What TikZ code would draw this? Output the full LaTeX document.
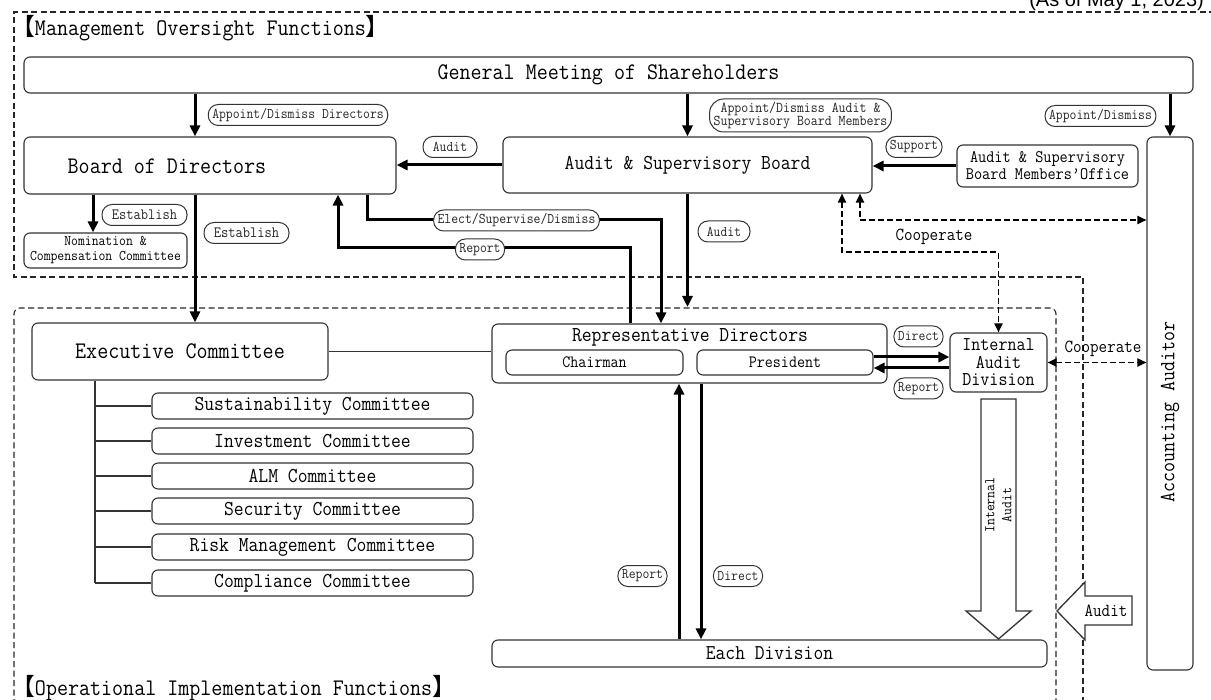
\documentclass[tikz,border=0pt]{standalone}
\usepackage{fontspec}
\setmainfont{Latin Modern Mono}[FakeStretch=0.9]
\newfontfamily\cjk{Noto Sans CJK SC}
\newfontfamily\arialf{Liberation Sans}
\usetikzlibrary{arrows.meta,calc}
\newcommand{\myfs}[2]{\fontsize{#1}{#2}\selectfont}
\tikzset{
  bx/.style={draw=black!80, line width=1.1pt, rounded corners=6pt, inner sep=0pt, align=center, text=black},
  pill/.style={draw=black!80, line width=1pt, fill=white, rounded corners=10pt, minimum height=21pt, inner xsep=4pt, inner ysep=0pt, text=black!85, font=\myfs{14.8}{13}, align=center},
  tarr/.style={line width=3pt, -{Triangle[length=11pt,width=10pt]}},
  darr/.style={line width=1.8pt, dash pattern=on 6pt off 3pt, {Triangle[length=9pt,width=8pt]}-{Triangle[length=9pt,width=8pt]}},
  region/.style={line width=1.1pt, dash pattern=on 6pt off 3.5pt, draw=black!85},
  conn/.style={line width=1.1pt, draw=black!80},
  blockarr/.style={draw=black!80, line width=1.3pt, fill=white, line join=miter},
  plain/.style={inner sep=0pt, text=black}
}
\begin{document}
\begin{tikzpicture}[x=1pt,y=-1pt]
\useasboundingbox (0,0) rectangle (1211,700);
% regions
\draw[region] (1215,12) -- (14,12) -- (14,277) -- (1083,277) -- (1083,705);
\draw[region, rounded corners=6pt] (14,705) -- (14,308) -- (1056,308) -- (1056,705);
% headings
\node[plain, anchor=base west, font=\myfs{23.8}{24}] (h1) at (11,36) {{\cjk 【}Management Oversight Functions{\cjk 】}};
\node[plain, anchor=base west, font=\myfs{23.8}{24}] (h2) at (11,695) {{\cjk 【}Operational Implementation Functions{\cjk 】}};
\node[plain, anchor=base east, font=\arialf\myfs{20}{20}] (date) at (1204,7) {(As of May 1, 2023)};
% boxes
\node[bx, minimum width=1169pt, minimum height=36pt, font=\myfs{23.8}{24}] (GM) at (608.5,75) {General Meeting of Shareholders};
\node[bx, minimum width=372pt, minimum height=57pt] (B) at (210,165.5) {};
\node[plain, font=\myfs{23.8}{24}] (Bt) at (167,166) {Board of Directors};
\node[bx, minimum width=369pt, minimum height=56pt, font=\myfs{21.2}{22}] (ASB) at (687.5,165) {Audit \& Supervisory Board};
\node[bx, minimum width=181pt, minimum height=42pt, font=\myfs{17.6}{17}] (Off) at (1047.5,166) {Audit \& Supervisory\\Board Members'Office};
\node[bx, minimum width=46pt, minimum height=533pt] (AA) at (1170,403.5) {};
\node[plain, rotate=90, font=\myfs{21.6}{22}] (AAt) at (1170,412) {Accounting Auditor};
\node[bx, minimum width=163pt, minimum height=35pt, font=\myfs{14.8}{15}] (Nom) at (105.5,250.5) {Nomination \&\\Compensation Committee};
\node[bx, minimum width=296pt, minimum height=57pt, font=\myfs{23.8}{24}] (Ex) at (180,351.5) {Executive Committee};
\node[bx, minimum width=395pt, minimum height=59pt] (RD) at (689.5,353.5) {};
\node[plain, font=\myfs{21.2}{22}] (RDt) at (690,337) {Representative Directors};
\node[bx, minimum width=177pt, minimum height=25pt, font=\myfs{17.3}{17}] (Ch) at (594.5,362.5) {Chairman};
\node[bx, minimum width=176pt, minimum height=25pt, font=\myfs{17.3}{17}] (Pr) at (785,362.5) {President};
\node[bx, minimum width=97pt, minimum height=59pt, font=\myfs{19.5}{17.5}] (IAD) at (998.5,362.5) {Internal\\Audit\\Division};
\node[bx, minimum width=555pt, minimum height=27pt, font=\myfs{21.1}{22}] (ED) at (769.5,653.5) {Each Division};
\foreach \n/\yy/\t in {c1/406/Sustainability Committee, c2/441/Investment Committee, c3/476/ALM Committee, c4/511/Security Committee, c5/547/Risk Management Committee, c6/583/Compliance Committee}
  \node[bx, minimum width=321pt, minimum height=26pt, font=\myfs{21.2}{22}] (\n) at (312.5,\yy) {\t};
% tree
\coordinate (tx) at (95,0);
\draw[conn] (tx |- Ex.south) -- (tx |- c6.west);
\foreach \i in {1,...,6} \draw[conn] (tx |- c\i.west) -- (c\i.west);
\draw[conn] (Ex.east) -- (Ex.east -| RD.west);
% block arrows
\draw[blockarr] (981,399) -- (1016,399) -- (1016,611) -- (1031,611) -- (998.5,639) -- (966,611) -- (981,611) -- cycle;
\node[plain, rotate=90, font=\myfs{14.8}{17}, align=center] (IAt) at (998.5,505) {Internal\\Audit};
\draw[blockarr] (1132,596) -- (1085,596) -- (1085,582) -- (1057,611) -- (1085,640) -- (1085,625) -- (1132,625) -- cycle;
\node[plain, font=\myfs{18.4}{18}] (AuT) at (1106,611) {Audit};
% dashed cooperate arrows
\coordinate (k1) at (842,252);
\coordinate (k2) at (998.5,252);
\draw[darr] (k1 |- ASB.south) -- (k1) -- (k2) -- (k2 |- IAD.north);
\coordinate (k3) at (860,220);
\draw[darr] (k3 |- ASB.south) -- (k3) -- (k3 -| AA.west);
\node[plain, font=\myfs{18.4}{18}] (coop1) at (934,237) {Cooperate};
\draw[darr] (IAD.east) -- (IAD.east -| AA.west);
\node[plain, font=\myfs{18.4}{18}] (coop2) at (1103,349) {Cooperate};
% thick arrows
\coordinate (x195) at (195,0);
\coordinate (x93) at (93,0);
\draw[tarr] (x195 |- GM.south) -- (x195 |- B.north);
\draw[tarr] (GM.south -| ASB.north) -- (ASB.north);
\draw[tarr] (GM.south -| AA.north) -- (AA.north);
\draw[tarr] (ASB.west) -- (ASB.west -| B.east);
\draw[tarr] (Off.west) -- (Off.west -| ASB.east);
\draw[tarr] (x93 |- B.south) -- (x93 |- Nom.north);
\draw[tarr] (x195 |- B.south) -- (x195 |- Ex.north);
\coordinate (el1) at (367,220);
\coordinate (el2) at (661,220);
\draw[tarr] (el1 |- B.south) -- (el1) -- (el2) -- (el2 |- RD.north);
\coordinate (rp1) at (630,248);
\coordinate (rp2) at (338,248);
\draw[tarr] (rp1 |- RD.north) -- (rp1) -- (rp2) -- (rp2 |- B.south);
\coordinate (opTop) at (687.5,307);
\draw[tarr] (ASB.south) -- (opTop);
\draw[tarr] ([yshift=5.5pt]Pr.east) -- ([yshift=5.5pt]Pr.east -| IAD.west);
\draw[tarr] ([yshift=-5.5pt]IAD.west) -- ([yshift=-5.5pt]IAD.west -| Pr.east);
\coordinate (x679) at (679,0);
\coordinate (x701) at (701,0);
\draw[tarr] (x679 |- ED.north) -- (x679 |- RD.south);
\draw[tarr] (x701 |- RD.south) -- (x701 |- ED.north);
% labels
\node[pill] (lAD) at (298,115) {Appoint/Dismiss Directors};
\node[pill, font=\myfs{15}{13}, minimum height=33pt, rounded corners=14pt] (lAA) at (800.5,115.5) {Appoint/Dismiss Audit \&\\Supervisory Board Members};
\node[pill] (lAAud) at (1100.5,116) {Appoint/Dismiss};
\node[pill, minimum width=54pt] (lAud1) at (450,147) {Audit};
\node[pill] (lSup) at (914,147) {Support};
\node[pill, minimum width=85pt, font=\myfs{15.7}{14}] (lEs1) at (144.5,215) {Establish};
\node[pill, minimum width=85pt, font=\myfs{15.7}{14}] (lEs2) at (246.5,233) {Establish};
\node[pill] (lEl) at (516.5,220.5) {Elect/Supervise/Dismiss};
\node[pill] (lRp1) at (480,249.5) {Report};
\node[pill, minimum width=52pt] (lAud2) at (724,231.5) {Audit};
\node[pill] (lDi1) at (918.5,336.5) {Direct};
\node[pill] (lRp2) at (918.5,388.5) {Report};
\node[pill] (lRp3) at (642.5,576) {Report};
\node[pill] (lDi3) at (738,576) {Direct};
\end{tikzpicture}
\end{document}
